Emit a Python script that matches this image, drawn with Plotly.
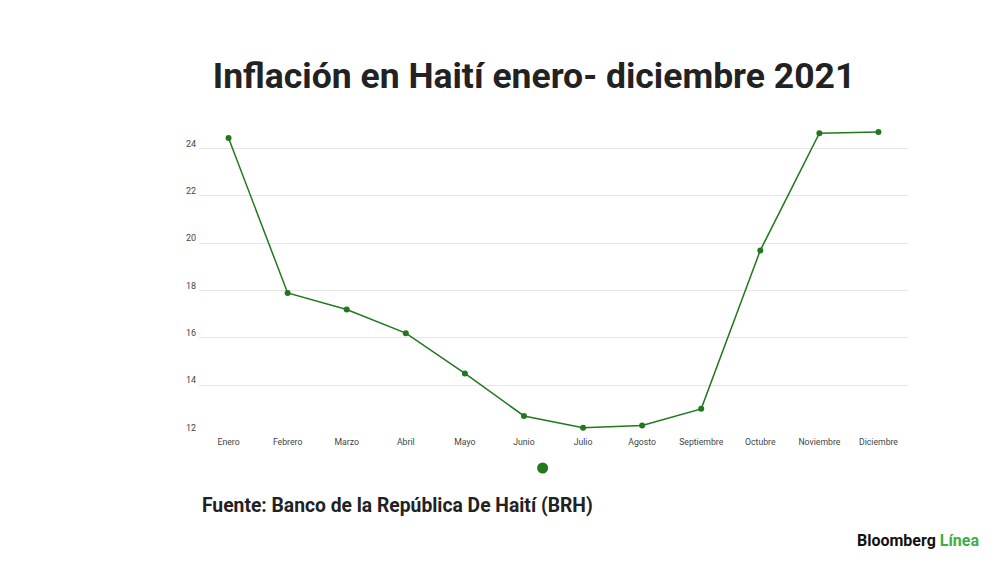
import plotly.graph_objects as go

# Datos: inflación interanual Haití 2021 (%)
meses = ["Enero", "Febrero", "Marzo", "Abril", "Mayo", "Junio",
         "Julio", "Agosto", "Septiembre", "Octubre", "Noviembre", "Diciembre"]
inflacion = [24.45, 17.9, 17.2, 16.2, 14.5, 12.7,
             12.2, 12.3, 13.0, 19.7, 24.65, 24.7]
y_ticks = [12, 14, 16, 18, 20, 22, 24]

verde = "#22781e"

fig = go.Figure()

fig.add_trace(go.Scatter(
    x=meses, y=inflacion,
    mode="lines+markers",
    line=dict(color=verde, width=1.5),
    marker=dict(color=verde, size=6),
    showlegend=False,
    name="Inflación",
))

# marcador de leyenda (sin texto)
fig.add_trace(go.Scatter(
    x=[None], y=[None],
    mode="markers",
    marker=dict(color=verde, size=11),
    name="",
    showlegend=True,
))

# la página tiene 8px de margen en el body -> figura un poco más pequeña
fig.update_layout(
    width=984, height=546,
    paper_bgcolor="white",
    plot_bgcolor="white",
    font=dict(family="Roboto", color="#333333"),
    margin=dict(l=191, r=84, t=117, b=121, autoexpand=False),
    title=dict(
        text="<b>Inflación en Haití enero- diciembre 2021</b>",
        x=0.5346, xanchor="center",
        y=0.876, yanchor="middle",
        font=dict(family="Roboto", size=35.5, color="#222222"),
    ),
    legend=dict(
        orientation="h",
        xref="container", x=0.523, xanchor="left",
        yref="container", y=0.1575, yanchor="middle",
        itemwidth=30,
        font=dict(size=1),
    ),
)

fig.update_xaxes(
    range=[-0.5, 11.5],
    showgrid=False,
    showline=False,
    ticks="",
    tickfont=dict(size=8.7, color="#444444"),
    ticklabelstandoff=2,
)

fig.update_yaxes(
    range=[11.98, 25],
    tickvals=y_ticks,
    showgrid=True,
    gridcolor="#e6e6e6",
    gridwidth=1,
    zeroline=False,
    showline=False,
    ticks="",
    tickfont=dict(size=9, color="#444444"),
    ticklabelstandoff=2,
    ticklabelshift=-5,
)

fig.add_annotation(
    text="<b>Fuente: Banco de la República De Haití (BRH)</b>",
    xref="paper", yref="paper",
    x=0.0, y=0.0, xanchor="left", yanchor="middle",
    xshift=1, yshift=-72.7,
    showarrow=False,
    font=dict(family="Roboto", size=19.3, color="#222222"),
)

fig.add_annotation(
    text="<b>Bloomberg</b> <b><span style='color:#3cb043'>Línea</span></b>",
    xref="paper", yref="paper",
    x=1.0, y=0.0, xanchor="right", yanchor="middle",
    xshift=73, yshift=-107.7,
    showarrow=False,
    font=dict(family="Roboto", size=16, color="#111111"),
)

fig.write_html("out.html")
